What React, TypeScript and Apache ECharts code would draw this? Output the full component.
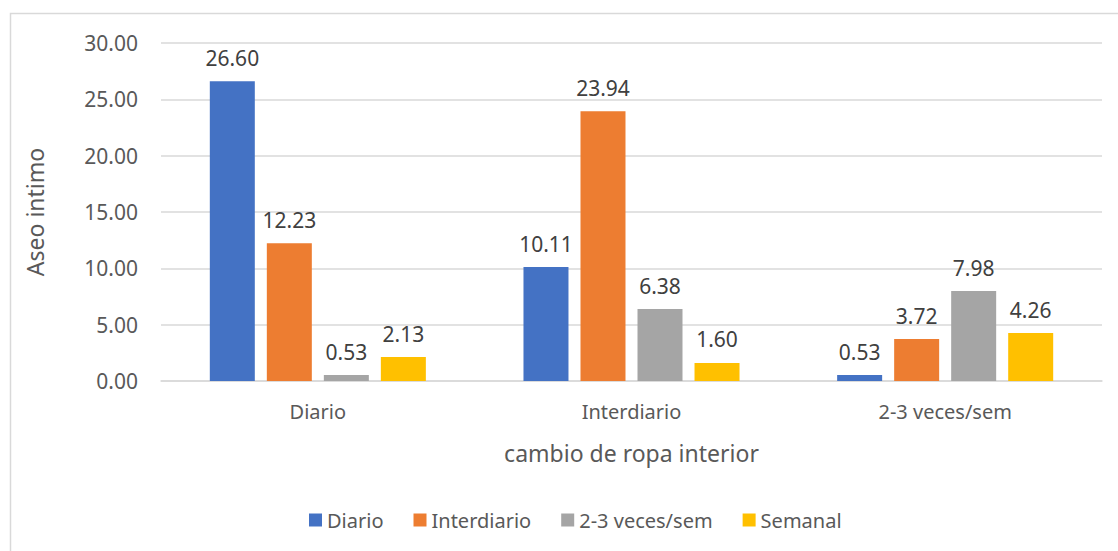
import React, { useEffect, useRef } from "react";
import * as echarts from "echarts";

const categories = ["Diario", "Interdiario", "2-3 veces/sem"];
const seriesNames = ["Diario", "Interdiario", "2-3 veces/sem", "Semanal"];
const diario = [26.6, 10.11, 0.53];
const interdiario = [12.23, 23.94, 3.72];
const veces = [0.53, 6.38, 7.98];
const semanal = [2.13, 1.6, 4.26];
const colors = ["#4472C4", "#ED7D31", "#A5A5A5", "#FFC000"];

const FONT = "'Noto Sans', sans-serif";

export default function App() {
  const ref = useRef<HTMLDivElement>(null);
  useEffect(() => {
    if (!ref.current) return;
    const chart = echarts.init(ref.current, undefined, { renderer: "svg" });
    const data = [diario, interdiario, veces, semanal];
    chart.setOption({
      animation: false,
      textStyle: { fontFamily: FONT },
      graphic: [
        {
          type: "rect",
          shape: { x: 10.5, y: 13.5, width: 1200, height: 600 },
          style: { fill: "none", stroke: "#D9D9D9", lineWidth: 1.5 },
          silent: true,
        },
      ],
      grid: { left: 161, right: 16, top: 43, bottom: 170 },
      legend: {
        bottom: 16,
        left: 304,
        itemWidth: 13,
        itemHeight: 13,
        itemGap: 30,
        icon: "rect",
        textStyle: { color: "#595959", fontSize: 20, fontFamily: FONT },
        data: seriesNames,
      },
      xAxis: {
        type: "category",
        data: categories,
        name: "cambio de ropa interior",
        nameLocation: "middle",
        nameGap: 60,
        nameTextStyle: { color: "#595959", fontSize: 23, fontFamily: FONT },
        axisLine: { lineStyle: { color: "#D9D9D9", width: 1.5 } },
        axisTick: { show: false },
        axisLabel: { color: "#595959", fontSize: 20, margin: 20, fontFamily: FONT },
      },
      yAxis: {
        type: "value",
        min: 0,
        max: 30,
        interval: 5,
        name: "Aseo intimo",
        nameLocation: "middle",
        nameGap: 115,
        nameTextStyle: { color: "#595959", fontSize: 23, fontFamily: FONT },
        axisLine: { show: false },
        axisTick: { show: false },
        axisLabel: {
          color: "#595959",
          fontSize: 21,
          margin: 23,
          fontFamily: FONT,
          formatter: (v: number) => v.toFixed(2),
        },
        splitLine: { lineStyle: { color: "#D9D9D9", width: 1.5 } },
      },
      series: seriesNames.map((n, i) => ({
        name: n,
        type: "bar",
        data: data[i],
        barWidth: 45,
        barGap: "26.7%",
        itemStyle: { color: colors[i] },
        label: {
          show: true,
          position: "top",
          distance: 13,
          color: "#404040",
          fontSize: 21,
          fontFamily: FONT,
          formatter: (p: any) => p.value.toFixed(2),
        },
      })),
    });
    return () => chart.dispose();
  }, []);
  return (
    <div
      ref={ref}
      style={{ position: "fixed", left: 0, top: 0, width: 1118, height: 551, background: "#fff" }}
    />
  );
}
